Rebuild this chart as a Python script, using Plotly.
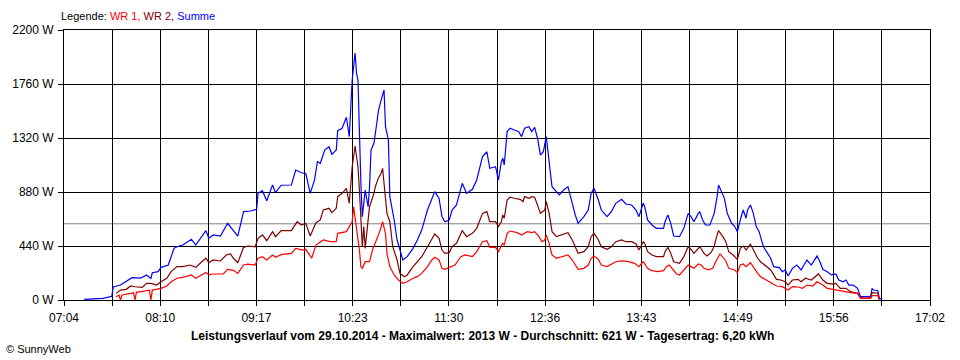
import plotly.graph_objects as go

# ---------------- data ----------------
X_START = "07:04"
X_END = "17:02"
X_TICK_LABELS = ["07:04", "08:10", "09:17", "10:23", "11:30",
                 "12:36", "13:43", "14:49", "15:56", "17:02"]
Y_TICKS = [0, 440, 880, 1320, 1760, 2200]
Y_TICK_LABELS = ["0 W", "440 W", "880 W", "1320 W", "1760 W", "2200 W"]
AVG_W = 621

T_SUM = ["07:18", "07:25", "07:31", "07:37", "07:38", "07:43", "07:47", "07:51", "07:57", "08:01",
         "08:04", "08:05", "08:09", "08:11", "08:16", "08:20", "08:22", "08:26", "08:32", "08:35",
         "08:42", "08:44", "08:47", "08:52", "08:57", "09:01", "09:04", "09:08", "09:13", "09:17",
         "09:18", "09:21", "09:24", "09:28", "09:30", "09:34", "09:41", "09:44", "09:48", "09:51",
         "09:54", "09:57", "09:59", "10:01", "10:04", "10:07", "10:09", "10:12", "10:13", "10:16",
         "10:19", "10:21", "10:22", "10:23", "10:25", "10:26", "10:27", "10:28", "10:29", "10:30",
         "10:32", "10:34", "10:35", "10:36", "10:38", "10:40", "10:41", "10:43", "10:45", "10:46",
         "10:48", "10:49", "10:52", "10:54", "10:56", "10:58", "11:01", "11:05", "11:08", "11:11",
         "11:15", "11:18", "11:20", "11:23", "11:25", "11:27", "11:30", "11:32", "11:35", "11:39",
         "11:42", "11:46", "11:49", "11:53", "11:56", "11:58", "12:02", "12:04", "12:06", "12:07",
         "12:08", "12:10", "12:12", "12:15", "12:18", "12:20", "12:22", "12:25", "12:27", "12:29",
         "12:31", "12:33", "12:35", "12:37", "12:39", "12:41", "12:44", "12:46", "12:49", "12:52",
         "12:55", "12:57", "12:59", "13:03", "13:06", "13:08", "13:10", "13:13", "13:15", "13:19",
         "13:22", "13:25", "13:29", "13:32", "13:36", "13:39", "13:41", "13:44", "13:45", "13:47",
         "13:50", "13:53", "13:58", "13:59", "14:01", "14:03", "14:05", "14:09", "14:12", "14:14",
         "14:15", "14:17", "14:19", "14:22", "14:23", "14:25", "14:27", "14:30", "14:33", "14:35",
         "14:36", "14:38", "14:40", "14:42", "14:45", "14:47", "14:49", "14:51", "14:53", "14:55",
         "14:56", "14:58", "15:00", "15:02", "15:04", "15:07", "15:09", "15:12", "15:14", "15:18",
         "15:20", "15:22", "15:24", "15:27", "15:30", "15:33", "15:35", "15:37", "15:40", "15:42",
         "15:44", "15:46", "15:48", "15:51", "15:54", "15:57", "15:59", "16:02", "16:04", "16:06",
         "16:09", "16:12", "16:14", "16:17", "16:21", "16:22", "16:23", "16:26", "16:27", "16:29"]
P_SUM = [5, 8, 14, 30, 106, 122, 149, 182, 179, 204,
         175, 222, 231, 266, 285, 421, 434, 448, 494, 448,
         565, 503, 530, 521, 625, 570, 521, 720, 725, 739,
         869, 891, 809, 937, 874, 935, 937, 1059, 1037, 1030,
         869, 978, 1127, 1114, 1222, 1249, 1187, 1222, 1380, 1399,
         1489, 1331, 1575, 1793, 2013, 1847, 1793, 1304, 953, 679,
         896, 760, 923, 1222, 1277, 1440, 1535, 1630, 1711, 1412,
         1304, 842, 652, 489, 407, 326, 353, 421, 489, 570,
         733, 815, 883, 828, 679, 638, 652, 733, 774, 951,
         869, 902, 978, 1168, 1208, 1073, 1086, 978, 1127, 1155,
         1100, 1372, 1399, 1385, 1372, 1331, 1399, 1412, 1372, 1407,
         1317, 1181, 1208, 1331, 1141, 923, 883, 856, 896, 923,
         788, 693, 625, 679, 733, 869, 910, 815, 733, 679,
         720, 788, 820, 782, 774, 733, 679, 788, 760, 652,
         611, 584, 584, 638, 693, 625, 521, 516, 584, 666,
         706, 679, 638, 706, 720, 652, 611, 611, 706, 842,
         937, 883, 828, 706, 625, 603, 557, 652, 733, 666,
         733, 774, 706, 598, 557, 434, 394, 340, 272, 264,
         231, 245, 196, 258, 285, 245, 285, 326, 285, 326,
         358, 312, 250, 231, 204, 212, 163, 149, 163, 122,
         122, 95, 27, 27, 27, 95, 81, 76, 14, 5]

T_WR2 = ["07:40", "07:43", "07:47", "07:50", "07:53", "07:58", "08:01", "08:04", "08:08", "08:11",
         "08:15", "08:18", "08:22", "08:26", "08:31", "08:35", "08:38", "08:42", "08:44", "08:47",
         "08:52", "08:56", "08:59", "09:01", "09:04", "09:08", "09:11", "09:16", "09:18", "09:21",
         "09:24", "09:28", "09:30", "09:34", "09:41", "09:45", "09:48", "09:51", "09:54", "09:58",
         "10:01", "10:03", "10:07", "10:09", "10:12", "10:13", "10:16", "10:19", "10:21", "10:22",
         "10:23", "10:25", "10:26", "10:27", "10:28", "10:29", "10:30", "10:31", "10:32", "10:34",
         "10:35", "10:38", "10:39", "10:41", "10:43", "10:44", "10:45", "10:47", "10:49", "10:51",
         "10:54", "10:56", "10:59", "11:01", "11:05", "11:08", "11:11", "11:15", "11:18", "11:20",
         "11:23", "11:25", "11:27", "11:30", "11:32", "11:35", "11:39", "11:42", "11:46", "11:49",
         "11:53", "11:56", "11:58", "12:02", "12:04", "12:06", "12:07", "12:08", "12:10", "12:12",
         "12:15", "12:19", "12:21", "12:22", "12:25", "12:27", "12:29", "12:31", "12:33", "12:36",
         "12:37", "12:39", "12:41", "12:44", "12:48", "12:52", "12:55", "12:57", "12:59", "13:03",
         "13:06", "13:08", "13:10", "13:13", "13:15", "13:19", "13:22", "13:25", "13:29", "13:32",
         "13:36", "13:39", "13:41", "13:44", "13:45", "13:47", "13:50", "13:53", "13:58", "13:59",
         "14:01", "14:03", "14:05", "14:09", "14:12", "14:15", "14:17", "14:19", "14:22", "14:23",
         "14:26", "14:28", "14:31", "14:33", "14:35", "14:36", "14:39", "14:41", "14:43", "14:46",
         "14:49", "14:51", "14:53", "14:55", "14:58", "15:00", "15:03", "15:05", "15:09", "15:12",
         "15:16", "15:19", "15:22", "15:24", "15:27", "15:31", "15:33", "15:36", "15:40", "15:43",
         "15:45", "15:48", "15:51", "15:55", "15:57", "16:00", "16:04", "16:07", "16:12", "16:14",
         "16:17", "16:21", "16:22", "16:26", "16:27"]
P_WR2 = [54, 81, 87, 114, 108, 103, 136, 136, 122, 149,
         177, 231, 272, 272, 285, 266, 299, 340, 304, 326,
         318, 367, 375, 340, 304, 429, 440, 434, 503, 530,
         483, 557, 516, 565, 565, 638, 611, 624, 521, 630,
         652, 733, 747, 712, 747, 842, 869, 910, 788, 951,
         1086, 1255, 1141, 1086, 896, 652, 434, 598, 421, 652,
         760, 869, 923, 991, 1032, 1073, 951, 706, 638, 434,
         326, 217, 190, 204, 272, 312, 353, 434, 503, 538,
         503, 407, 380, 386, 434, 462, 565, 516, 543, 584,
         706, 720, 638, 638, 598, 638, 693, 666, 815, 837,
         829, 820, 801, 842, 829, 842, 837, 774, 706, 733,
         801, 706, 557, 516, 530, 549, 489, 434, 380, 394,
         434, 516, 543, 489, 434, 413, 434, 475, 489, 475,
         475, 456, 407, 475, 462, 394, 367, 353, 353, 394,
         429, 380, 312, 299, 353, 434, 413, 380, 421, 434,
         380, 358, 390, 440, 530, 565, 516, 475, 394, 367,
         331, 421, 440, 407, 456, 407, 340, 312, 272, 245,
         168, 163, 149, 122, 163, 168, 149, 177, 163, 190,
         212, 163, 136, 130, 136, 95, 95, 68, 54, 20,
         15, 15, 60, 55, 5]

T_WR1 = ["07:40", "07:42", "07:43", "07:44", "07:50", "07:52", "07:53", "07:54", "07:57", "08:03",
         "08:04", "08:05", "08:11", "08:15", "08:18", "08:22", "08:26", "08:32", "08:35", "08:42",
         "08:44", "08:47", "08:54", "08:57", "09:01", "09:04", "09:08", "09:11", "09:16", "09:18",
         "09:21", "09:24", "09:28", "09:30", "09:34", "09:41", "09:44", "09:49", "09:51", "09:55",
         "09:58", "10:03", "10:08", "10:12", "10:13", "10:19", "10:21", "10:23", "10:24", "10:25",
         "10:26", "10:28", "10:29", "10:30", "10:32", "10:35", "10:37", "10:39", "10:42", "10:44",
         "10:46", "10:47", "10:49", "10:52", "10:55", "10:58", "11:01", "11:05", "11:08", "11:11",
         "11:15", "11:18", "11:20", "11:23", "11:25", "11:27", "11:31", "11:34", "11:38", "11:41",
         "11:46", "11:49", "11:53", "11:56", "11:58", "12:02", "12:04", "12:06", "12:07", "12:08",
         "12:10", "12:12", "12:17", "12:20", "12:24", "12:27", "12:29", "12:32", "12:34", "12:36",
         "12:37", "12:39", "12:41", "12:44", "12:48", "12:52", "12:55", "12:57", "12:59", "13:03",
         "13:06", "13:08", "13:10", "13:13", "13:15", "13:19", "13:22", "13:25", "13:29", "13:34",
         "13:38", "13:41", "13:44", "13:45", "13:47", "13:50", "13:54", "13:58", "14:00", "14:02",
         "14:05", "14:07", "14:09", "14:12", "14:15", "14:17", "14:19", "14:22", "14:24", "14:26",
         "14:29", "14:32", "14:34", "14:37", "14:39", "14:41", "14:43", "14:47", "14:49", "14:51",
         "14:53", "14:55", "14:58", "15:00", "15:03", "15:05", "15:09", "15:12", "15:16", "15:20",
         "15:24", "15:27", "15:31", "15:34", "15:37", "15:41", "15:44", "15:48", "15:51", "15:55",
         "15:59", "16:02", "16:07", "16:12", "16:14", "16:19", "16:21", "16:22", "16:26", "16:27"]
P_WR1 = [27, 40, 0, 41, 54, 60, 0, 62, 68, 80,
         0, 81, 95, 114, 149, 177, 185, 204, 177, 225,
         204, 212, 212, 250, 242, 217, 285, 293, 285, 340,
         353, 326, 367, 348, 370, 380, 421, 407, 413, 340,
         448, 489, 475, 475, 543, 557, 598, 638, 760, 679,
         598, 407, 272, 258, 312, 312, 407, 462, 557, 638,
         543, 380, 272, 204, 163, 136, 149, 177, 190, 217,
         272, 326, 348, 326, 258, 250, 272, 285, 353, 367,
         353, 394, 475, 483, 429, 429, 394, 440, 462, 448,
         543, 562, 549, 530, 557, 549, 557, 516, 475, 489,
         530, 462, 367, 340, 353, 367, 326, 285, 250, 258,
         285, 340, 358, 331, 285, 272, 293, 312, 318, 312,
         299, 272, 312, 293, 258, 239, 231, 239, 272, 285,
         245, 212, 204, 245, 285, 272, 258, 293, 285, 258,
         245, 258, 312, 375, 348, 320, 258, 245, 222, 285,
         293, 272, 304, 266, 217, 190, 163, 136, 114, 109,
         81, 109, 106, 95, 122, 114, 149, 122, 95, 87,
         76, 68, 60, 54, 14, 14, 14, 35, 35, 2]


def to_min(s):
    h, m = s.split(":")
    return int(h) * 60 + int(m)


x0, x1 = to_min(X_START), to_min(X_END)
n_grid = 2 * (len(X_TICK_LABELS) - 1)
tickvals = [x0 + k * (x1 - x0) / n_grid for k in range(n_grid + 1)]
ticktext = [X_TICK_LABELS[k // 2] if k % 2 == 0 else "" for k in range(n_grid + 1)]

FONT = "Liberation Sans, Arial, sans-serif"

fig = go.Figure()
series = [
    (T_SUM, P_SUM, "#0000FF", "Summe"),
    (T_WR2, P_WR2, "#800000", "WR 2"),
    (T_WR1, P_WR1, "#FF0000", "WR 1"),
]
for t, p, c, name in series:
    fig.add_trace(go.Scatter(x=[to_min(s) for s in t], y=p, mode="lines", name=name,
                             line=dict(color=c, width=1.2), hoverinfo="skip"))

fig.add_shape(type="line", xref="paper", x0=0, x1=1, yref="y", y0=AVG_W, y1=AVG_W,
              line=dict(color="#808080", width=1), layer="between")

fig.update_layout(
    width=960, height=360,
    margin=dict(l=60, r=30, t=30, b=60),
    plot_bgcolor="white", paper_bgcolor="white",
    showlegend=False,
    font=dict(family=FONT, size=11, color="black"),
    xaxis=dict(range=[x0, x1], tickmode="array", tickvals=tickvals, ticktext=ticktext,
               ticks="outside", ticklen=5, tickcolor="black", tickwidth=1,
               showgrid=True, gridcolor="black", gridwidth=1,
               showline=True, linecolor="black", linewidth=1, mirror=True,
               zeroline=False, tickangle=0, tickfont=dict(size=12), ticklabelstandoff=2),
    yaxis=dict(range=[0, 2200], tickmode="array", tickvals=Y_TICKS, ticktext=Y_TICK_LABELS,
               ticks="outside", ticklen=5, tickcolor="black", tickwidth=1,
               showgrid=True, gridcolor="black", gridwidth=1,
               showline=True, linecolor="black", linewidth=1, mirror=True,
               zeroline=False, tickfont=dict(size=12), ticklabelstandoff=2),
    annotations=[
        dict(xref="paper", yref="paper", x=-5 / 870, y=(300 - 16) / 270, xanchor="left",
             yanchor="middle", showarrow=False, font=dict(size=11, family=FONT),
             text="Legende: <span style='color:#FF0000'>WR 1,</span> "
                  "<span style='color:#800000'>WR 2,</span> "
                  "<span style='color:#0000FF'>Summe</span>"),
        dict(xref="paper", yref="paper", x=(480 - 60) / 870, y=(300 - 336) / 270,
             xanchor="center", yanchor="middle", showarrow=False,
             font=dict(size=12, family=FONT),
             text="<b>Leistungsverlauf vom 29.10.2014 - Maximalwert: 2013 W - "
                  "Durchschnitt: 621 W - Tagesertrag: 6,20 kWh</b>"),
        dict(xref="paper", yref="paper", x=(0 - 60) / 870, y=(300 - 349) / 270,
             xanchor="left", yanchor="middle", showarrow=False,
             font=dict(size=11, family=FONT), text="© SunnyWeb"),
    ],
)

fig.write_html("out.html", config={"displayModeBar": False},
               post_script="document.body.style.margin='0';")
